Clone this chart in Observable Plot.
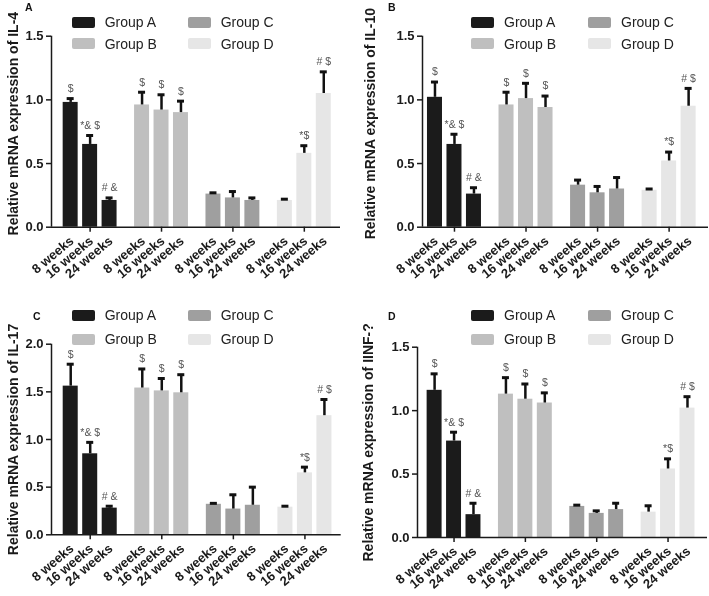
<!DOCTYPE html>
<html><head><meta charset="utf-8">
<script src="https://cdn.jsdelivr.net/npm/d3@7"></script>
<script src="https://cdn.jsdelivr.net/npm/@observablehq/plot@0.6"></script>
<style>
body{margin:0;background:#fff;font-family:"Liberation Sans",Arial,sans-serif}
#wrap{position:relative;width:709px;height:596px;overflow:hidden;background:#fff}
.panel{position:absolute;will-change:transform}
.panel svg{overflow:visible}
.letter{position:absolute;font-weight:bold;font-size:10.5px;color:#111;line-height:10px}
.li{position:absolute;white-space:nowrap;font-size:14px;color:#222;line-height:14px}
.sw{position:absolute;width:23px;height:11px;border-radius:2px}
.lt{position:absolute;left:33px;top:-7px}
</style></head><body><div id="wrap"></div>
<script>
// ---- data ----
const groups = ["Group A", "Group B", "Group C", "Group D"];
const weeks = ["8 weeks", "16 weeks", "24 weeks"];
const groupColors = ["#1b1b1b", "#bfbfbf", "#9f9f9f", "#e6e6e6"];
const sigLabels = ["$", "*& $", "# &", "$", "$", "$", "", "", "", "", "*$", "# $"];

const il4Mean = [0.98, 0.65, 0.21, 0.96, 0.92, 0.90, 0.26, 0.23, 0.21, 0.21, 0.58, 1.05];
const il4Err  = [0.03, 0.07, 0.02, 0.10, 0.12, 0.09, 0.01, 0.05, 0.02, 0.01, 0.06, 0.17];
const il10Mean = [1.02, 0.65, 0.26, 0.96, 1.01, 0.94, 0.33, 0.27, 0.30, 0.29, 0.52, 0.95];
const il10Err  = [0.12, 0.08, 0.05, 0.10, 0.12, 0.09, 0.04, 0.05, 0.09, 0.01, 0.07, 0.14];
const il17Mean = [1.56, 0.85, 0.28, 1.54, 1.51, 1.49, 0.32, 0.27, 0.31, 0.29, 0.65, 1.25];
const il17Err  = [0.23, 0.12, 0.02, 0.20, 0.13, 0.19, 0.01, 0.15, 0.19, 0.01, 0.06, 0.17];
const infMean = [1.16, 0.76, 0.18, 1.13, 1.09, 1.06, 0.245, 0.19, 0.22, 0.20, 0.54, 1.02];
const infErr  = [0.13, 0.07, 0.09, 0.13, 0.12, 0.08, 0.01, 0.02, 0.05, 0.05, 0.08, 0.09];

const ticks15 = [0, 0.5, 1.0, 1.5];
const ticks20 = [0, 0.5, 1.0, 1.5, 2.0];

const panels = [
  {letter: "A", title: "Relative mRNA expression of IL-4", mean: il4Mean, err: il4Err, yMax: 1.5, yTicks: ticks15},
  {letter: "B", title: "Relative mRNA expression of IL-10", mean: il10Mean, err: il10Err, yMax: 1.5, yTicks: ticks15},
  {letter: "C", title: "Relative mRNA expression of IL-17", mean: il17Mean, err: il17Err, yMax: 2.0, yTicks: ticks20},
  {letter: "D", title: "Relative mRNA expression of IINF-?", mean: infMean, err: infErr, yMax: 1.5, yTicks: ticks15}
];

// ---- layout ----
const G = 3.67;      // group pitch in bar units
const BW = 0.77;     // bar width
const CW = 0.18;     // half cap width
const layouts = [
  {left: 0,   top: 0,   width: 354, height: 298, mL: 51, mR: 14, mT: 35.7, mB: 71.3, padL: 0.985, padR: 0.86, lDx: -38, lDy: -8, letterXY: [25, 2], legX: 71.7, legY: [22, 43.5], legDx: 116},
  {left: 355, top: 0,   width: 354, height: 298, mL: 67, mR: 1,  mT: 35.7, mB: 71.3, padL: 0.64, padR: 1.02, lDx: -52, lDy: -8, letterXY: [33, 2], legX: 116, legY: [22, 43.5], legDx: 117},
  {left: 0,   top: 300, width: 354, height: 296, mL: 51, mR: 13.3, mT: 43.7, mB: 61.7, padL: 0.985, padR: 0.86, lDx: -38, lDy: 0, letterXY: [33, 11], legX: 71.7, legY: [15, 39], legDx: 116},
  {left: 355, top: 300, width: 354, height: 296, mL: 62, mR: 2,  mT: 46.7, mB: 59, padL: 0.88, padR: 1.03, lDx: -49, lDy: 0, letterXY: [33, 11], legX: 116, legY: [15, 39], legDx: 117}
];

const wrap = document.getElementById("wrap");
const font = '"Liberation Sans", Arial, sans-serif';

panels.forEach((cfg, k) => {
  const L = layouts[k];
  const rows = cfg.mean.map((v, i) => ({
    gi: Math.floor(i / 3), wi: i % 3,
    group: groups[Math.floor(i / 3)], week: weeks[i % 3],
    value: v, err: cfg.err[i], sig: sigLabels[i]
  }));
  const pos = d => d.gi * G + d.wi;
  const xmin = -L.padL, xmax = 3 * G + 2 + L.padR;
  const groupCenters = groups.map((g, i) => i * G + 1);

  const chart = Plot.plot({
    width: L.width, height: L.height,
    marginLeft: L.mL, marginRight: L.mR, marginTop: L.mT, marginBottom: L.mB,
    x: {domain: [xmin, xmax], axis: null},
    y: {domain: [0, cfg.yMax], axis: null},
    color: {domain: groups, range: groupColors},
    style: {fontFamily: font, background: "transparent", color: "#1a1a1a"},
    marks: [
      Plot.rectY(rows, {x1: d => pos(d) - BW / 2, x2: d => pos(d) + BW / 2, y1: () => 0, y2: "value", fill: "group"}),
      Plot.ruleX(rows, {x: pos, y1: "value", y2: d => d.value + d.err, stroke: "#111", strokeWidth: 2.5}),
      Plot.ruleY(rows, {y: d => d.value + d.err, x1: d => pos(d) - CW, x2: d => pos(d) + CW, stroke: "#111", strokeWidth: 3}),
      Plot.text(rows, {x: pos, y: d => d.value + d.err, text: "sig", dy: -10, fill: "#555", fontSize: 10.5}),
      Plot.ruleY([0], {stroke: "#1a1a1a", strokeWidth: 1.5}),
      Plot.ruleX([xmin], {x: d => d, y1: () => 0, y2: () => cfg.yMax, stroke: "#1a1a1a", strokeWidth: 1.5}),
      Plot.axisY({ticks: cfg.yTicks, tickFormat: d3.format(".1f"), tickSize: 5, tickPadding: 3, strokeWidth: 1.5, fontSize: 13, fontWeight: "bold", label: null}),
      Plot.axisX({ticks: groupCenters, tickFormat: () => "", tickSize: 5, strokeWidth: 1.5, label: null}),
      Plot.text(rows, {x: pos, y: () => 0, text: "week", rotate: -40, textAnchor: "end", lineAnchor: "top", dx: -2, dy: 8, fontWeight: "bold", fontSize: 13, fill: "#1a1a1a"}),
      Plot.text([cfg.title], {text: d => d, frameAnchor: "left", textAnchor: "middle", lineAnchor: "middle", rotate: -90, dx: L.lDx, dy: L.lDy, fontWeight: "bold", fontSize: 14, fill: "#1a1a1a"})
    ]
  });

  const div = document.createElement("div");
  div.className = "panel";
  div.style.left = L.left + "px";
  div.style.top = L.top + "px";
  div.appendChild(chart);
  wrap.appendChild(div);

  const letter = document.createElement("div");
  letter.className = "letter";
  letter.textContent = cfg.letter;
  letter.style.left = (L.left + L.letterXY[0]) + "px";
  letter.style.top = (L.top + L.letterXY[1]) + "px";
  wrap.appendChild(letter);

  // legend: two columns (A,B | C,D)
  groups.forEach((g, i) => {
    const col = Math.floor(i / 2), row = i % 2;
    const item = document.createElement("div");
    item.className = "li";
    item.style.left = (L.left + L.legX + col * L.legDx) + "px";
    item.style.top = (L.top + L.legY[row]) + "px";
    const sw = document.createElement("span");
    sw.className = "sw";
    sw.style.top = "-5.5px";
    sw.style.left = "0px";
    sw.style.background = groupColors[i];
    const t = document.createElement("span");
    t.className = "lt";
    t.textContent = g;
    item.appendChild(sw);
    item.appendChild(t);
    wrap.appendChild(item);
  });
});
</script></body></html>
